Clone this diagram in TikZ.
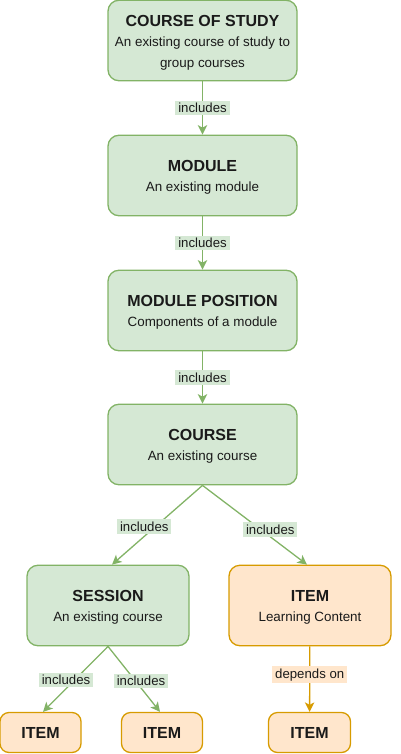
\documentclass[tikz,border=0pt]{standalone}
\usepackage{fontspec}
\setmainfont{Liberation Sans}
\usetikzlibrary{arrows.meta}
\definecolor{gfill}{HTML}{D5E8D4}
\definecolor{gline}{HTML}{82B366}
\definecolor{ofill}{HTML}{FFE6CC}
\definecolor{oline}{HTML}{D79B00}
\definecolor{txt}{HTML}{1A1A1A}
\tikzset{
  gbox/.style={draw=gline, fill=gfill, line width=1.3pt, rounded corners=11pt,
    minimum width=189pt, minimum height=80.5pt, align=center, text=txt, inner sep=0pt,
    font=\fontsize{13.4}{21}\selectfont},
  obox/.style={draw=oline, fill=ofill, line width=1.3pt, rounded corners=9pt,
    minimum height=40pt, align=center, text=txt, inner sep=0pt,
    font=\fontsize{13.4}{21}\selectfont},
  ttl/.style={font=\fontsize{16}{19}\selectfont\bfseries},
  gedge/.style={draw=gline, line width=1.3pt, -{Stealth[length=9.5pt,width=9.5pt,inset=2.5pt]}},
  oedge/.style={draw=oline, line width=1.3pt, -{Stealth[length=9.5pt,width=9.5pt,inset=2.5pt]}},
  glab/.style={fill=gfill, text=txt, font=\fontsize{13.2}{15}\selectfont, inner xsep=3pt, inner ysep=2.5pt},
  olab/.style={fill=ofill, text=txt, font=\fontsize{13.2}{15}\selectfont, inner xsep=3pt, inner ysep=2.5pt},
}
\newcommand{\ttlsub}[2]{{\fontsize{16}{21}\selectfont\bfseries\rule{0pt}{15.5pt}#1}\\[-1pt]#2}
\begin{document}
\begin{tikzpicture}[x=1pt,y=-1pt]
\useasboundingbox (0,0) rectangle (400,754);
\node[gbox] (cos) at (202.5,40.5) {{\fontsize{16}{21}\selectfont\bfseries\rule{0pt}{16.5pt}COURSE OF STUDY}\\[-1pt]An existing course of study to\\group courses};
\node[gbox] (mod) at (202.5,175.5) {\ttlsub{MODULE}{An existing module}};
\node[gbox] (modpos) at (202.5,310.5) {\ttlsub{MODULE POSITION}{Components of a module}};
\node[gbox] (course) at (202.5,444.5) {\ttlsub{COURSE}{An existing course}};
\node[gbox, minimum width=162pt] (session) at (108,605.5) {\ttlsub{SESSION}{An existing course}};
\node[obox, minimum width=162pt, minimum height=80.5pt, rounded corners=11pt] (item) at (310,605.5) {\ttlsub{ITEM}{Learning Content}};
\node[obox, minimum width=81pt, ttl] (i1) at (40.5,732.5) {ITEM};
\node[obox, minimum width=81pt, ttl] (i2) at (162,732.5) {ITEM};
\node[obox, minimum width=82pt, ttl] (i3) at (309.5,732.5) {ITEM};

\draw[gedge] (cos) -- node[glab] {includes} (mod);
\draw[gedge] (mod) -- node[glab] {includes} (modpos);
\draw[gedge] (modpos) -- node[glab] {includes} (course);
\draw[gedge] (course.south) -- node[glab, xshift=-13pt, yshift=-1.5pt] {includes} ([xshift=4pt]session.north);
\draw[gedge] (course.south) -- node[glab, xshift=15.5pt, yshift=-4.5pt] {includes} ([xshift=-3pt]item.north);
\draw[gedge] (session.south) -- node[glab, xshift=-9.5pt, yshift=-1pt] {includes} ([xshift=2.5pt]i1.north);
\draw[gedge] (session.south) -- node[glab, xshift=7pt, yshift=-2pt] {includes} ([xshift=-2pt]i2.north);
\draw[oedge] (item) -- node[olab, yshift=4.5pt] {depends on} (i3);
\end{tikzpicture}
\end{document}
